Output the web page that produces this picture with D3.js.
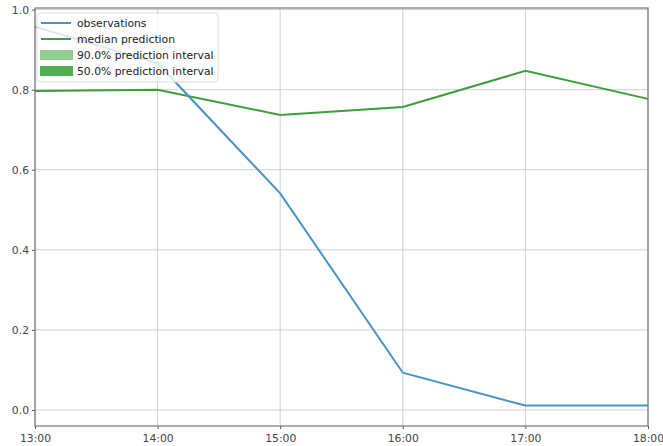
<!DOCTYPE html>
<html>
<head>
<meta charset="utf-8">
<script src="https://cdn.jsdelivr.net/npm/d3@7"></script>
<style>
  body { margin: 0; background: #fff; }
  text { font-family: "DejaVu Sans", sans-serif; }
</style>
</head>
<body>
<div id="chart"></div>
<script>
// hours of the day
const hours = [13, 14, 15, 16, 17, 18];
const observations = [0.957, 0.866, 0.541, 0.093, 0.011, 0.011];
const median = [0.797, 0.800, 0.737, 0.757, 0.847, 0.777];
const yTicks = [0.0, 0.2, 0.4, 0.6, 0.8, 1.0];
const legendItems = [
  { label: "observations", type: "line", color: "#4a92c4" },
  { label: "median prediction", type: "line", color: "#3c9e3c" },
  { label: "90.0% prediction interval", type: "patch", color: "#93cf93" },
  { label: "50.0% prediction interval", type: "patch", color: "#4daf4f" }
];

const width = 663, height = 446;
const margin = { top: 8, right: 15, bottom: 20, left: 35 };

const svg = d3.select("#chart").append("svg")
  .attr("width", width)
  .attr("height", height);

const x = d3.scaleLinear()
  .domain([13, 18])
  .range([margin.left, width - margin.right]);

const y = d3.scaleLinear()
  .domain([-0.04, 1.004])
  .range([height - margin.bottom, margin.top]);

// grid
svg.append("g")
  .attr("stroke", "#cfcfcf")
  .attr("stroke-width", 1)
  .selectAll("line.v")
  .data(hours)
  .join("line")
  .attr("x1", d => x(d)).attr("x2", d => x(d))
  .attr("y1", margin.top).attr("y2", height - margin.bottom);

svg.append("g")
  .attr("stroke", "#cfcfcf")
  .attr("stroke-width", 1)
  .selectAll("line.h")
  .data(yTicks)
  .join("line")
  .attr("x1", margin.left).attr("x2", width - margin.right)
  .attr("y1", d => y(d)).attr("y2", d => y(d));

// axes
const xAxis = svg.append("g")
  .attr("transform", `translate(0,${height - margin.bottom})`)
  .call(d3.axisBottom(x).tickValues(hours).tickSize(3).tickFormat(d => d + ":00"));

const yAxis = svg.append("g")
  .attr("transform", `translate(${margin.left},0)`)
  .call(d3.axisLeft(y).tickValues(yTicks).tickSize(3).tickFormat(d3.format(".1f")));

[xAxis, yAxis].forEach(a => {
  a.select(".domain").remove();
  a.selectAll("line").attr("stroke", "#555");
  a.selectAll("text").attr("fill", "#444").attr("font-size", 10.8);
});
xAxis.selectAll("text").attr("dy", "0.95em");

// frame
svg.append("rect")
  .attr("x", margin.left)
  .attr("y", margin.top)
  .attr("width", width - margin.left - margin.right)
  .attr("height", height - margin.top - margin.bottom)
  .attr("fill", "none")
  .attr("stroke", "#777")
  .attr("stroke-width", 1.2);

const line = d3.line()
  .x((d, i) => x(hours[i]))
  .y(d => y(d));

svg.append("path")
  .datum(median)
  .attr("fill", "none")
  .attr("stroke", legendItems[1].color)
  .attr("stroke-width", 2)
  .attr("d", line);

svg.append("path")
  .datum(observations)
  .attr("fill", "none")
  .attr("stroke", legendItems[0].color)
  .attr("stroke-width", 2)
  .attr("d", line);

// legend
const legend = svg.append("g").attr("transform", "translate(37,13)");
legend.append("rect")
  .attr("width", 181).attr("height", 69)
  .attr("rx", 3)
  .attr("fill", "#fff").attr("fill-opacity", 0.8)
  .attr("stroke", "#ddd");

const items = legend.selectAll("g.item")
  .data(legendItems)
  .join("g")
  .attr("transform", (d, i) => `translate(0,${10 + i * 16})`);

items.filter(d => d.type === "line").append("line")
  .attr("x1", 4).attr("x2", 34)
  .attr("stroke", d => d.color)
  .attr("stroke-width", 2);

items.filter(d => d.type === "patch").append("rect")
  .attr("x", 3).attr("y", -5)
  .attr("width", 33).attr("height", 10)
  .attr("fill", d => d.color);

items.append("text")
  .attr("x", 40)
  .attr("dy", "0.35em")
  .attr("font-size", 10.8)
  .attr("fill", "#222")
  .text(d => d.label);
</script>
</body>
</html>
